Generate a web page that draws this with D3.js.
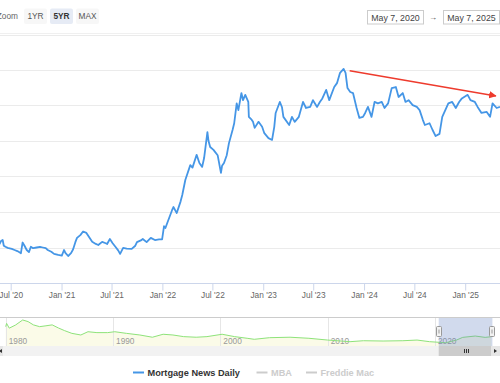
<!DOCTYPE html>
<html>
<head>
<meta charset="utf-8">
<script src="https://cdn.jsdelivr.net/npm/d3@7"></script>
<style>
html, body { margin: 0; padding: 0; background: #fff; }
svg { display: block; font-family: "Liberation Sans", "DejaVu Sans", sans-serif; }
</style>
</head>
<body>
<div id="canvas"></div>
<script>
// Mortgage News Daily 30yr rate
var mndDates = ["2020-05-07","2020-05-15","2020-05-22","2020-05-27","2020-06-02","2020-06-06","2020-06-12","2020-06-20","2020-07-05","2020-07-15","2020-07-25","2020-08-03","2020-08-07","2020-08-13","2020-08-20","2020-08-28","2020-09-05","2020-09-12","2020-09-20","2020-10-03","2020-10-15","2020-10-25","2020-11-05","2020-11-12","2020-11-25","2020-12-05","2020-12-20","2021-01-02","2021-01-10","2021-01-15","2021-01-25","2021-02-05","2021-02-12","2021-02-20","2021-02-26","2021-03-10","2021-03-20","2021-04-01","2021-04-10","2021-04-22","2021-05-05","2021-05-14","2021-05-28","2021-06-10","2021-06-15","2021-06-25","2021-07-05","2021-07-15","2021-07-25","2021-08-01","2021-08-12","2021-08-25","2021-09-12","2021-09-25","2021-10-01","2021-10-15","2021-10-22","2021-11-05","2021-11-20","2021-12-05","2021-12-20","2021-12-31","2022-01-07","2022-01-12","2022-01-20","2022-02-05","2022-02-10","2022-02-22","2022-03-08","2022-03-14","2022-03-25","2022-04-12","2022-04-20","2022-05-05","2022-05-15","2022-05-25","2022-06-01","2022-06-13","2022-06-17","2022-06-23","2022-07-05","2022-07-20","2022-08-01","2022-08-05","2022-08-12","2022-08-22","2022-08-30","2022-09-12","2022-09-18","2022-09-27","2022-10-03","2022-10-14","2022-10-20","2022-10-28","2022-11-08","2022-11-10","2022-11-20","2022-11-25","2022-12-01","2022-12-15","2022-12-28","2023-01-05","2023-01-20","2023-02-02","2023-02-10","2023-02-15","2023-03-02","2023-03-10","2023-03-15","2023-04-05","2023-04-15","2023-04-25","2023-05-10","2023-05-25","2023-06-05","2023-06-20","2023-06-30","2023-07-15","2023-07-25","2023-08-03","2023-08-17","2023-08-28","2023-09-15","2023-09-25","2023-10-06","2023-10-19","2023-10-26","2023-11-02","2023-11-12","2023-11-22","2023-12-05","2023-12-15","2023-12-28","2024-01-05","2024-01-15","2024-01-28","2024-02-08","2024-02-20","2024-03-05","2024-03-15","2024-03-28","2024-04-10","2024-04-25","2024-05-05","2024-05-20","2024-05-30","2024-06-10","2024-06-25","2024-07-10","2024-07-20","2024-08-01","2024-08-08","2024-08-25","2024-09-05","2024-09-16","2024-09-30","2024-10-10","2024-11-01","2024-11-15","2024-11-28","2024-12-10","2024-12-20","2025-01-10","2025-01-20","2025-02-05","2025-02-15","2025-03-01","2025-03-20","2025-04-01","2025-04-10","2025-04-25","2025-05-07"];
var mndRates = [3.15,3.12,3.10,3.18,3.21,3.05,3.02,2.99,2.96,2.93,2.90,2.86,2.84,3.14,3.05,2.93,2.87,3.02,2.98,3.00,3.02,3.00,2.98,2.93,2.88,2.82,2.79,2.77,2.93,2.85,2.76,2.85,2.95,3.15,3.27,3.35,3.45,3.41,3.30,3.16,3.10,3.07,3.16,3.12,3.10,3.24,3.12,3.02,2.92,2.82,2.99,2.97,2.96,3.05,3.15,3.20,3.24,3.15,3.27,3.21,3.23,3.23,3.60,3.55,3.72,4.05,4.14,3.97,4.30,4.48,4.90,5.32,5.25,5.61,5.38,5.27,5.52,6.25,6.00,5.83,5.75,5.60,5.10,5.30,5.38,5.60,5.94,6.31,6.50,7.06,6.87,7.35,7.15,7.30,7.10,6.68,6.60,6.54,6.37,6.54,6.40,6.22,6.08,6.03,6.40,6.79,7.10,6.95,6.68,6.45,6.68,6.54,6.68,7.10,6.93,6.96,7.15,6.96,7.10,7.20,7.44,7.15,7.52,7.63,7.92,8.03,7.92,7.49,7.38,7.35,6.93,6.65,6.68,6.79,6.96,6.68,7.10,7.06,7.10,6.93,7.06,7.49,7.52,7.24,7.35,7.10,7.15,7.01,6.96,6.87,6.59,6.45,6.50,6.31,6.14,6.20,6.68,7.06,7.10,6.93,7.10,7.20,7.30,7.15,7.10,6.96,6.79,6.82,6.68,7.06,6.93,6.96];

// navigator series (long history)
var navDates = ["1980-01","1980-02","1980-05","1980-12","1981-08","1982-02","1982-08","1983-03","1983-09","1984-05","1984-12","1985-07","1986-03","1987-01","1987-09","1988-07","1989-07","1990-03","1991-04","1992-07","1993-09","1994-09","1995-08","1996-08","1997-10","1998-10","2000-03","2001-05","2002-07","2003-03","2004-08","2006-07","2008-04","2010-01","2012-02","2013-05","2015-03","2017-01","2018-05","2019-07","2021-01","2022-01","2022-08","2023-10","2024-09","2025-04"];
var navRates = [13.5,15.7,12.5,14.6,18.0,16.9,14.7,13.5,14.0,14.7,12.6,10.8,9.0,7.9,10.1,9.5,9.5,10.1,9.0,7.9,6.4,8.4,7.9,6.8,6.4,6.8,8.4,6.8,5.7,5.0,6.1,6.4,5.7,4.5,3.4,4.05,3.85,4.05,4.5,3.4,2.7,4.5,6.3,7.2,6.3,6.75];

var yTicks = [2, 3, 4, 5, 6, 7, 8, 9];
var navYears = [1980, 1990, 2000, 2010, 2020];
var zoomButtons = ["1YR", "5YR", "MAX"];
var selectedButton = "5YR";
var rangeFrom = "May 7, 2020";
var rangeTo = "May 7, 2025";
var legendItems = ["Mortgage News Daily", "MBA", "Freddie Mac"];
var trendDates = ["2023-11-10", "2025-04-22"];
var trendRates = [7.98, 7.27];

var W = 500, H = 383;
var parseDay = d3.timeParse("%Y-%m-%d");
var parseMonth = d3.timeParse("%Y-%m");

var svg = d3.select("#canvas").append("svg")
	.attr("width", W)
	.attr("height", H);

var defs = svg.append("defs");
defs.append("marker")
	.attr("id", "arrowHead")
	.attr("viewBox", "0 0 10 10")
	.attr("refX", 9)
	.attr("refY", 5)
	.attr("markerWidth", 5)
	.attr("markerHeight", 5)
	.attr("orient", "auto")
	.attr("markerUnits", "strokeWidth")
	.append("path")
	.attr("d", "M0,0 L10,5 L0,10 z")
	.attr("fill", "#ee3b2d");

// ---- main chart scales
var x = d3.scaleTime()
	.domain([parseDay("2020-05-07"), parseDay("2025-05-07")])
	.range([-4.5, 500]);
var y = d3.scaleLinear()
	.domain([2, 9])
	.range([283, 34.5]);

// gridlines
svg.append("g").selectAll("line.grid")
	.data(yTicks.slice(1))
	.enter()
	.append("line")
	.attr("x1", 0)
	.attr("x2", W)
	.attr("y1", function(d){return Math.round(y(d)) + 0.5;})
	.attr("y2", function(d){return Math.round(y(d)) + 0.5;})
	.attr("stroke", "#ebebeb")
	.attr("stroke-width", 1);

// x axis
var xAxis = d3.axisBottom(x)
	.ticks(d3.timeMonth.every(6))
	.tickFormat(d3.timeFormat("%b '%y"))
	.tickSize(7)
	.tickPadding(2);

var gx = svg.append("g")
	.attr("transform", "translate(0," + (Math.round(y(2)) + 0.5) + ")")
	.call(xAxis);
gx.select(".domain").attr("stroke", "#ccd6eb").attr("d", "M0,0H" + W);
gx.selectAll(".tick line").attr("stroke", "#ccd6eb");
gx.selectAll(".tick text")
	.attr("fill", "#666")
	.attr("font-size", "8.3px")
	.attr("font-family", "Liberation Sans, sans-serif");

// main series
var mnd = mndDates.map(function(d, i){return {date: parseDay(d), value: mndRates[i]};});
var line = d3.line()
	.x(function(d){return x(d.date);})
	.y(function(d){return y(d.value);})
	.curve(d3.curveLinear);

svg.append("path")
	.datum(mnd)
	.attr("d", line)
	.attr("fill", "none")
	.attr("stroke", "#4596e6")
	.attr("stroke-width", 1.8)
	.attr("stroke-linejoin", "round");

// red trend annotation
svg.append("line")
	.attr("x1", x(parseDay(trendDates[0])))
	.attr("y1", y(trendRates[0]))
	.attr("x2", x(parseDay(trendDates[1])))
	.attr("y2", y(trendRates[1]))
	.attr("stroke", "#ee3b2d")
	.attr("stroke-width", 1.5)
	.attr("marker-end", "url(#arrowHead)");

// ---- top bar
svg.append("line")
	.attr("x1", 0).attr("x2", W)
	.attr("y1", 33.5).attr("y2", 33.5)
	.attr("stroke", "#f0f0f0");

svg.append("text")
	.text("Zoom")
	.attr("x", 18)
	.attr("y", 19)
	.attr("text-anchor", "end")
	.attr("font-size", "8.3px")
	.attr("fill", "#666");

var btn = svg.append("g").selectAll("g")
	.data(zoomButtons)
	.enter()
	.append("g")
	.attr("transform", function(d, i){return "translate(" + (24 + i * 26) + ",8.5)";});
btn.append("rect")
	.attr("width", 23)
	.attr("height", 15.5)
	.attr("rx", 2)
	.attr("fill", function(d){return d === selectedButton ? "#e6ebf5" : "#f7f7f7";});
btn.append("text")
	.text(function(d){return d;})
	.attr("x", 11.5)
	.attr("y", 10.8)
	.attr("text-anchor", "middle")
	.attr("font-size", "8.3px")
	.attr("font-weight", function(d){return d === selectedButton ? "bold" : "normal";})
	.attr("fill", function(d){return d === selectedButton ? "#333" : "#555";});

var inputs = svg.append("g").selectAll("g")
	.data([rangeFrom, rangeTo])
	.enter()
	.append("g")
	.attr("transform", function(d, i){return "translate(" + (367.5 + i * 76) + ",10.5)";});
inputs.append("rect")
	.attr("width", 56)
	.attr("height", 13.5)
	.attr("fill", "#fff")
	.attr("stroke", "#cccccc");
inputs.append("text")
	.text(function(d){return d;})
	.attr("x", 28)
	.attr("y", 10)
	.attr("text-anchor", "middle")
	.attr("font-size", "8.8px")
	.attr("fill", "#444");
svg.append("text")
	.text("\u2192")
	.attr("x", 433)
	.attr("y", 19.5)
	.attr("text-anchor", "middle")
	.attr("font-size", "8px")
	.attr("fill", "#444");

// ---- navigator
var navTop = 317, navBottom = 346;
var nx = d3.scaleTime()
	.domain([new Date(1980, 0, 1), new Date(2020, 0, 1)])
	.range([5.7, 435]);
var ny = d3.scaleLinear()
	.domain([0.5, 20])
	.range([navBottom, navTop]);

var nav = navDates.map(function(d, i){return {date: parseMonth(d), value: navRates[i]};});

svg.append("path")
	.datum(nav)
	.attr("d", d3.area()
		.x(function(d){return nx(d.date);})
		.y0(navBottom)
		.y1(function(d){return ny(d.value);}))
	.attr("fill", "#fbfbe8");

svg.append("g").selectAll("line")
	.data(navYears)
	.enter()
	.append("line")
	.attr("x1", function(d){return Math.round(nx(new Date(d, 0, 1))) + 0.5;})
	.attr("x2", function(d){return Math.round(nx(new Date(d, 0, 1))) + 0.5;})
	.attr("y1", navTop)
	.attr("y2", navBottom)
	.attr("stroke", "#e6e6e6");

svg.append("g").selectAll("text")
	.data(navYears)
	.enter()
	.append("text")
	.text(function(d){return d;})
	.attr("x", function(d){return nx(new Date(d, 0, 1)) + 3;})
	.attr("y", 344)
	.attr("font-size", "8.3px")
	.attr("fill", "#999");

svg.append("path")
	.datum(nav)
	.attr("d", d3.line()
		.x(function(d){return nx(d.date);})
		.y(function(d){return ny(d.value);}))
	.attr("fill", "none")
	.attr("stroke", "#8ee37a")
	.attr("stroke-width", 1);

// selected range mask
var selX0 = nx(parseDay("2020-05-07")), selX1 = nx(parseDay("2025-05-07"));
svg.append("rect")
	.attr("x", selX0)
	.attr("y", navTop)
	.attr("width", selX1 - selX0)
	.attr("height", navBottom - navTop)
	.attr("fill", "rgba(102,133,194,0.3)");

svg.append("line")
	.attr("x1", 0).attr("x2", W)
	.attr("y1", navTop + 0.5).attr("y2", navTop + 0.5)
	.attr("stroke", "#cccccc");

// handles
var handles = svg.append("g").selectAll("g")
	.data([selX0, selX1])
	.enter()
	.append("g")
	.attr("transform", function(d){return "translate(" + (Math.round(d) - 2.5) + ",326.5)";});
handles.append("rect")
	.attr("width", 5)
	.attr("height", 10)
	.attr("rx", 1)
	.attr("fill", "#f2f2f2")
	.attr("stroke", "#999");
handles.append("line")
	.attr("x1", 2.5).attr("x2", 2.5)
	.attr("y1", 3).attr("y2", 7)
	.attr("stroke", "#999");

// scrollbar
svg.append("rect")
	.attr("x", 0).attr("y", navBottom)
	.attr("width", W).attr("height", 10)
	.attr("fill", "#f2f2f2");
svg.append("rect")
	.attr("x", selX0).attr("y", navBottom)
	.attr("width", selX1 - selX0).attr("height", 10)
	.attr("fill", "#cccccc");
svg.append("g").selectAll("line")
	.data([-2, 0, 2])
	.enter()
	.append("line")
	.attr("x1", function(d){return Math.round((selX0 + selX1) / 2) + d + 0.5;})
	.attr("x2", function(d){return Math.round((selX0 + selX1) / 2) + d + 0.5;})
	.attr("y1", navBottom + 3)
	.attr("y2", navBottom + 7)
	.attr("stroke", "#333");
svg.append("rect")
	.attr("x", 491).attr("y", navBottom)
	.attr("width", 9).attr("height", 10)
	.attr("fill", "#e6e6e6");
svg.append("path")
	.attr("d", "M494," + (navBottom + 3) + " L497," + (navBottom + 5) + " L494," + (navBottom + 7) + "z")
	.attr("fill", "#333");
svg.append("rect")
	.attr("x", 0).attr("y", navBottom)
	.attr("width", 3).attr("height", 10)
	.attr("fill", "#e6e6e6");
svg.append("path")
	.attr("d", "M2," + (navBottom + 3) + " L-1," + (navBottom + 5) + " L2," + (navBottom + 7) + "z")
	.attr("fill", "#333");

// ---- legend
var legendX = [133, 256.5, 306];
var legendColor = ["#4596e6", "#cccccc", "#cccccc"];
var legend = svg.append("g").selectAll("g")
	.data(legendItems)
	.enter()
	.append("g")
	.attr("transform", function(d, i){return "translate(" + legendX[i] + ",372.5)";});
legend.append("line")
	.attr("x1", 0).attr("x2", 11)
	.attr("stroke", function(d, i){return legendColor[i];})
	.attr("stroke-width", 2);
legend.append("text")
	.text(function(d){return d;})
	.attr("x", 14.5)
	.attr("y", 3.3)
	.attr("font-size", "9.2px")
	.attr("font-weight", "bold")
	.attr("fill", function(d, i){return i === 0 ? "#333" : "#cccccc";});
</script>
</body>
</html>
